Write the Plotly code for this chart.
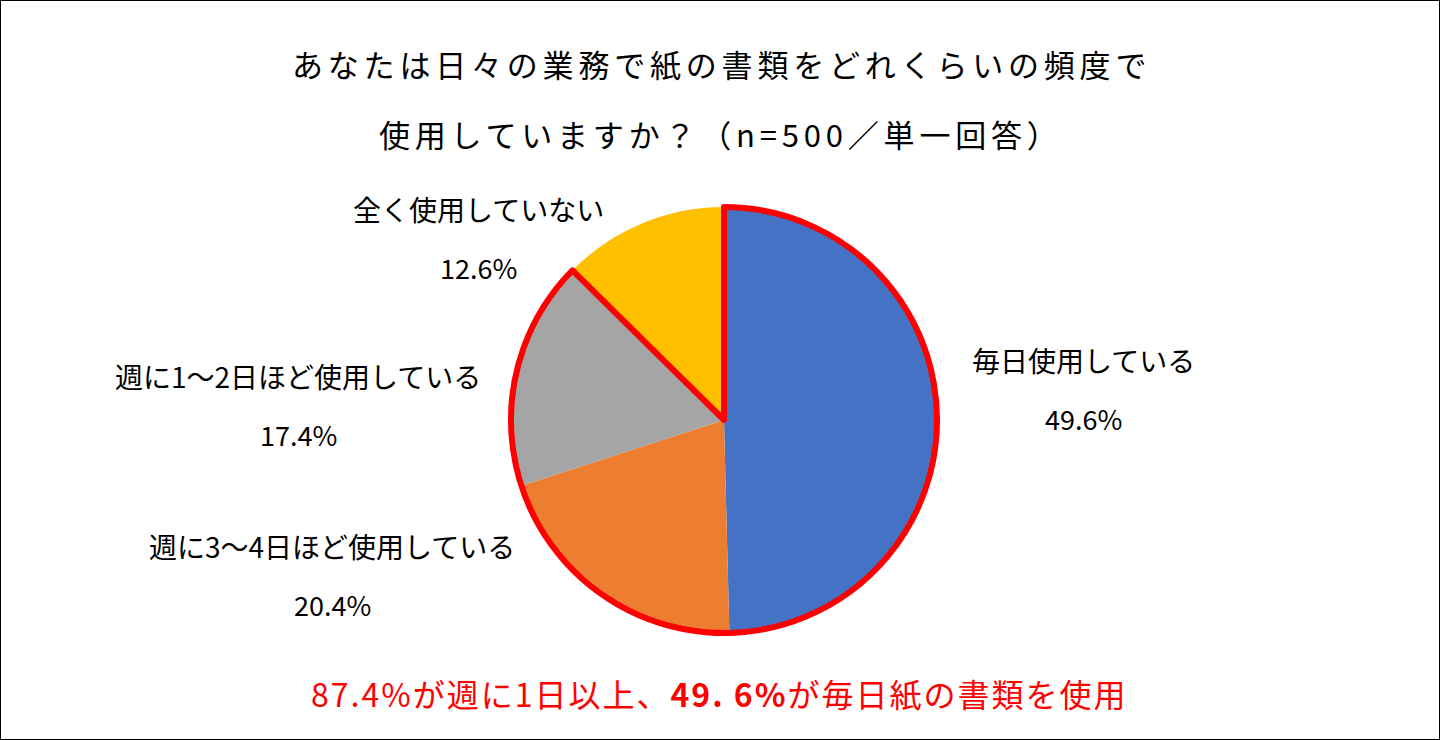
import plotly.graph_objects as go

# ---- data ----
categories = ["毎日使用している", "週に3〜4日ほど使用している", "週に1〜2日ほど使用している", "全く使用していない"]
values = [49.6, 20.4, 17.4, 12.6]
slice_colors = ["#4472C4", "#ED7D31", "#A5A5A5", "#FFC000"]
title_lines = ["あなたは日々の業務で紙の書類をどれくらいの頻度で", "使用していますか？（n=500／単一回答）"]
highlight_values = [round(sum(values[:3]), 1), values[3]]

W, H = 1440, 740
FONT = "Noto Sans CJK JP"

# pie geometry (pixels)
cx, cy, r = 724, 420, 213
dom_x = [(cx - r) / W, (cx + r) / W]
dom_y = [1 - (cy + r) / H, 1 - (cy - r) / H]

fig = go.Figure()
fig.add_trace(go.Pie(
    labels=categories, values=values, sort=False, direction="clockwise", rotation=0,
    marker=dict(colors=slice_colors, line=dict(width=0)),
    textinfo="none", hoverinfo="label+percent", showlegend=False,
    domain=dict(x=dom_x, y=dom_y),
))
fig.add_trace(go.Pie(
    labels=["週1日以上", "全く使用していない "], values=highlight_values, sort=False,
    direction="clockwise", rotation=0,
    marker=dict(colors=["rgba(0,0,0,0)", "rgba(0,0,0,0)"],
                line=dict(color=["#FF0000", "rgba(0,0,0,0)"], width=[6, 0])),
    textinfo="none", hoverinfo="skip", showlegend=False,
    domain=dict(x=dom_x, y=dom_y),
))

annotations = []
# title
for text, y in zip(title_lines, [63, 133]):
    annotations.append(dict(
        text=f'<span style="letter-spacing:4.8px">{text}</span>',
        x=721 / W, y=1 - y / H, xref="paper", yref="paper",
        showarrow=False, xanchor="center", yanchor="middle",
        font=dict(family=FONT, size=31, color="#000000"),
    ))

# slice labels
label_pos = [(1083, 360), (332, 546), (298, 376), (478, 209)]
for cat, val, (lx, ly) in zip(categories, values, label_pos):
    annotations.append(dict(
        text=cat, x=lx / W, y=1 - ly / H, xref="paper", yref="paper",
        showarrow=False, xanchor="center", yanchor="middle",
        font=dict(family=FONT, size=28, color="#000000"),
    ))
    annotations.append(dict(
        text=f"{val:.1f}%", x=lx / W, y=1 - (ly + 58) / H, xref="paper", yref="paper",
        showarrow=False, xanchor="center", yanchor="middle",
        font=dict(family=FONT, size=27, color="#000000"),
    ))

# summary
summary = f'{highlight_values[0]}%が週に1日以上、<b>49. 6%</b>が毎日紙の書類を使用'
annotations.append(dict(
    text=f'<span style="letter-spacing:2px">{summary}</span>',
    x=719 / W, y=1 - 693 / H, xref="paper", yref="paper",
    showarrow=False, xanchor="center", yanchor="middle",
    font=dict(family=FONT, size=32, color="#FF0000"),
))

fig.update_layout(
    width=W, height=H,
    margin=dict(l=0, r=0, t=0, b=0),
    paper_bgcolor="white", plot_bgcolor="white",
    annotations=annotations,
    shapes=[dict(type="rect", xref="paper", yref="paper", x0=0, y0=0, x1=1, y1=1,
                 line=dict(color="#000000", width=2))],
)

fig.write_html("out.html")
